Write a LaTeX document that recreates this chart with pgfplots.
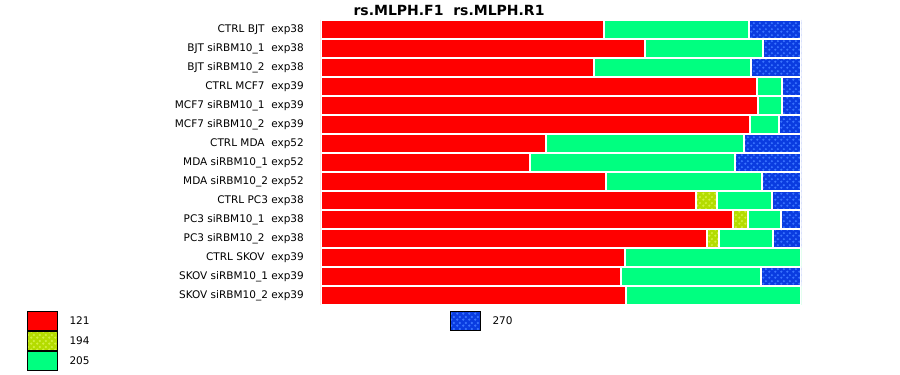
\documentclass[border=0pt]{standalone}
\usepackage{fontspec}
\setmainfont{DejaVu Sans}
\usepackage{pgfplots}
\pgfplotsset{compat=1.18}
\usepackage{pgfplotstable}
\usetikzlibrary{patterns}

\definecolor{cA}{HTML}{FF0000}
\definecolor{cB}{HTML}{B4DC00}
\definecolor{cBd}{HTML}{D4F040}
\definecolor{cC}{HTML}{00FF80}
\definecolor{cD}{HTML}{0A3CE0}
\definecolor{cDd}{HTML}{3A74FF}

\pgfdeclarepatternformonly{bigdots}{\pgfqpoint{0pt}{0pt}}{\pgfqpoint{6pt}{6pt}}{\pgfqpoint{6pt}{6pt}}{%
  \pgfpathcircle{\pgfqpoint{1.5pt}{1.5pt}}{1.4pt}%
  \pgfpathcircle{\pgfqpoint{4.5pt}{4.5pt}}{1.4pt}%
  \pgfusepath{fill}%
}

\tikzset{vallab/.style={anchor=east, xshift=71pt, font=\fontsize{10.5}{12}\selectfont}}

\pgfplotstableread{
y a b c d
15 283 0 145 52
14 324 0 118 38
13 273 0 157 50
12 436 0 25 19
11 437 0 24 19
10 429 0 29 22
9 225 0 198 57
8 209 0 205 66
7 285 0 156 39
6 375 21 55 29
5 412 15 33 20
4 386 12 54 28
3 304 0 176 0
2 300 0 140 40
1 305 0 175 0
}\bardata

\begin{document}
\begin{tikzpicture}
\path[use as bounding box] (0,0) rectangle (900pt,375pt);
\begin{axis}[
  at={(321pt,70pt)}, anchor=south west,
  scale only axis, width=480pt, height=285pt,
  xbar stacked, bar width=19pt,
  xmin=0, xmax=480, ymin=0.5, ymax=15.5,
  axis line style={draw=none}, tick style={draw=none},
  xtick=\empty, ytick={1,...,15},
  yticklabels={SKOV siRBM10\_2 exp39, SKOV siRBM10\_1 exp39, CTRL SKOV~~exp39,
    PC3 siRBM10\_2~~exp38, PC3 siRBM10\_1~~exp38, CTRL PC3 exp38,
    MDA siRBM10\_2 exp52, MDA siRBM10\_1 exp52, CTRL MDA~~exp52,
    MCF7 siRBM10\_2~~exp39, MCF7 siRBM10\_1~~exp39, CTRL MCF7~~exp39,
    BJT siRBM10\_2~~exp38, BJT siRBM10\_1~~exp38, CTRL BJT~~exp38},
  yticklabel style={anchor=east, inner sep=0pt, xshift=-17pt, font=\fontsize{10.5}{12}\selectfont},
  legend columns=2,
  legend cell align=left,
  legend style={at={(axis description cs:-0.6135,-0.02105)}, anchor=north west,
    draw=none, fill=none, inner sep=0pt, outer sep=0pt, row sep=0pt, column sep=0pt,
    font=\fontsize{10.5}{12}\selectfont, nodes={inner sep=0pt, outer sep=0pt},
    /tikz/every odd column/.append style={column sep=12pt},
    /tikz/every even column/.append style={column sep=360pt}},
  legend image code/.code={\draw[#1, draw=black, line width=1pt] (0pt,-9.5pt) rectangle (30pt,9.5pt);},
]
\addplot[forget plot, fill=cA, draw=white, line width=2pt] table[x=a, y=y]{\bardata};
\addplot[forget plot, fill=cB, draw=white, line width=2pt, postaction={pattern=bigdots, pattern color=cBd}] table[x=b, y=y]{\bardata};
\addplot[forget plot, fill=cC, draw=white, line width=2pt] table[x=c, y=y]{\bardata};
\addplot[forget plot, fill=cD, draw=white, line width=2pt, postaction={pattern=bigdots, pattern color=cDd}] table[x=d, y=y]{\bardata};
\addlegendimage{fill=cA}\addlegendentry{121}
\addlegendimage{fill=cD, postaction={pattern=bigdots, pattern color=cDd}}\addlegendentry{270}
\addlegendimage{fill=cB, postaction={pattern=bigdots, pattern color=cBd}}\addlegendentry{194}
\addlegendimage{empty legend}\addlegendentry{}
\addlegendimage{fill=cC}\addlegendentry{205}
\node[vallab] at (axis cs:480,15) {64.4 nM};
\node[vallab] at (axis cs:480,14) {68.1 nM};
\node[vallab] at (axis cs:480,13) {66.1 nM};
\node[vallab] at (axis cs:480,12) {145.5 nM};
\node[vallab] at (axis cs:480,11) {141.8 nM};
\node[vallab] at (axis cs:480,10) {107.9 nM};
\node[vallab] at (axis cs:480,9) {82.0 nM};
\node[vallab] at (axis cs:480,8) {61.4 nM};
\node[vallab] at (axis cs:480,7) {78.0 nM};
\node[vallab] at (axis cs:480,6) {163.5 nM};
\node[vallab] at (axis cs:480,5) {177.8 nM};
\node[vallab] at (axis cs:480,4) {166.2 nM};
\node[vallab] at (axis cs:480,3) {55.3 nM};
\node[vallab] at (axis cs:480,2) {63.6 nM};
\node[vallab] at (axis cs:480,1) {44.1 nM};
\end{axis}
\node[anchor=base west, font=\fontsize{14}{16}\selectfont\bfseries] at (350pt,359.7pt) {rs.MLPH.F1~~rs.MLPH.R1};
\end{tikzpicture}
\end{document}
